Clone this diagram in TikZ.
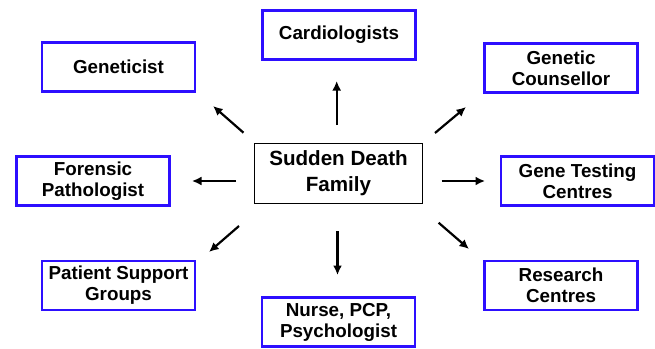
\documentclass[tikz,border=0pt]{standalone}
\usepackage{fontspec}
\setmainfont{Liberation Sans}
\usetikzlibrary{arrows.meta}
\definecolor{boxblue}{RGB}{45,15,255}
\begin{document}
\begin{tikzpicture}[x=1pt,y=-1pt,
  outerbox/.style={draw=boxblue, line width=2.1pt, minimum width=153pt, minimum height=49pt, inner sep=0pt, align=center, font=\fontsize{18.8}{21}\selectfont\bfseries},
  hub/.style={draw=black, line width=1.8pt, minimum width=168pt, minimum height=60pt, inner sep=0pt, align=center, font=\fontsize{20.6}{26}\selectfont\bfseries},
  link/.style={line width=2.2pt, -{Latex[length=9.5pt,width=9pt]}}]
\useasboundingbox (0,0) rectangle (655,348);
\node[hub] (hub) at (338.5,173.5) {Sudden Death\\Family};
\node[outerbox] (card) at (339,35) {Cardiologists};
\node[outerbox] (genet) at (118.5,67) {Geneticist};
\node[outerbox] (couns) at (561,68) {Genetic\\Counsellor};
\node[outerbox] (foren) at (93,181) {Forensic\\Pathologist};
\node[outerbox] (gtest) at (577.5,181) {Gene Testing\\Centres};
\node[outerbox] (patient) at (118.5,285.5) {Patient Support\\Groups};
\node[outerbox] (nurse) at (338.5,322) {Nurse, PCP,\\Psychologist};
\node[outerbox] (research) at (561,285.5) {Research\\Centres};
% arrow end points
\coordinate (upS) at (336.7,125); \coordinate (upE) at (336.7,81);
\coordinate (ulS) at (243.5,132.7); \coordinate (ulE) at (213,106);
\coordinate (urS) at (435,133); \coordinate (urE) at (466,107);
\coordinate (lS) at (236,181); \coordinate (lE) at (192,181);
\coordinate (rS) at (441.5,181); \coordinate (rE) at (485,181);
\coordinate (llS) at (239,226); \coordinate (llE) at (209,252);
\coordinate (dS) at (337.5,231); \coordinate (dE) at (337.5,275);
\coordinate (lrS) at (438.6,222.7); \coordinate (lrE) at (469,249);
\draw[link] (upS) -- (upE);
\draw[link] (ulS) -- (ulE);
\draw[link] (urS) -- (urE);
\draw[link] (lS) -- (lE);
\draw[link] (rS) -- (rE);
\draw[link] (llS) -- (llE);
\draw[link] (dS) -- (dE);
\draw[link] (lrS) -- (lrE);
\end{tikzpicture}
\end{document}
